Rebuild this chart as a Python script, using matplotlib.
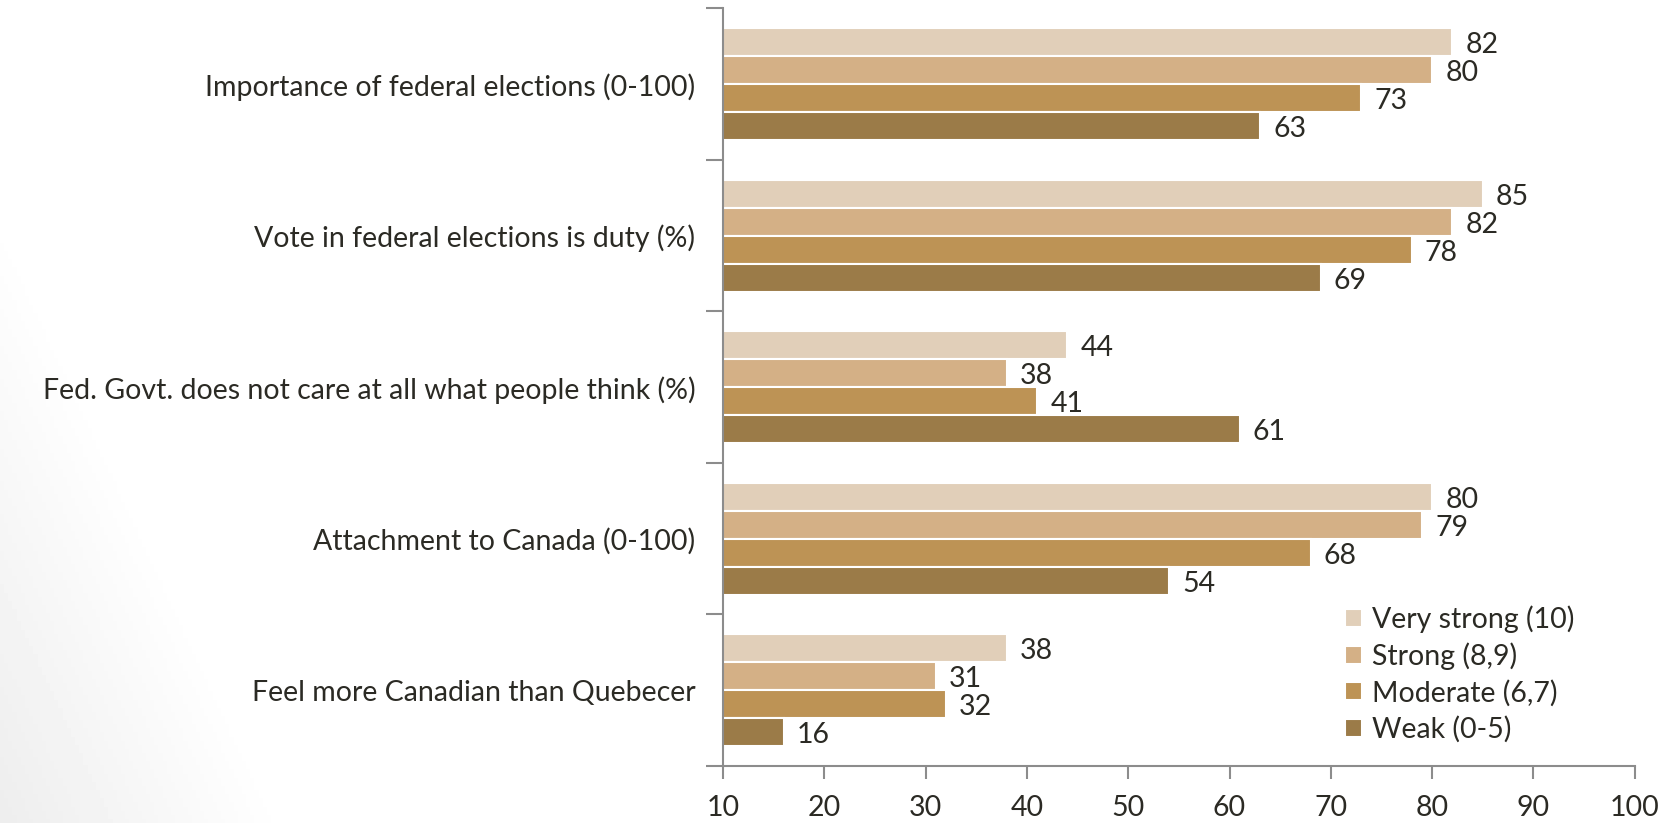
import matplotlib.pyplot as plt
import numpy as np

plt.rcParams['font.family'] = ['Lato', 'DejaVu Sans']

categories = ['Importance of federal elections (0-100)',
              'Vote in federal elections is duty (%)',
              'Fed. Govt. does not care at all what people think (%)',
              'Attachment to Canada (0-100)',
              'Feel more Canadian than Quebecer']
series = ['Very strong (10)', 'Strong (8,9)', 'Moderate (6,7)', 'Weak (0-5)']
very_strong = [82, 85, 44, 80, 38]
strong = [80, 82, 38, 79, 31]
moderate = [73, 78, 41, 68, 32]
weak = [63, 69, 61, 54, 16]
colors = ['#E1CFB9', '#D4B086', '#BD9355', '#9B7B48']
text_col = '#2b2a24'
axis_col = '#8c8c8c'
fs = 20.5

fig = plt.figure(figsize=(16.68, 8.23), dpi=100)

# faint grey shading in lower-left corner
bg = fig.add_axes([0, 0, 1, 1], zorder=-1)
yy, xx = np.mgrid[0:1:200j, 0:1:400j]
d = np.clip(1 - (xx * 7 + (1 - yy) * 1.6) / 1.2, 0, 1)
bg.imshow(1 - 0.07 * d, cmap='gray', vmin=0, vmax=1, aspect='auto',
          extent=[0, 1, 0, 1], origin='upper')
bg.axis('off')

ax = fig.add_axes([0.4335, 0.0693, 0.9800 - 0.4335, 0.9897 - 0.0693])
ax.patch.set_alpha(0)

y = np.arange(len(categories))
step = 0.185
for k, vals in enumerate([very_strong, strong, moderate, weak]):
    pos = y + (k - 1.5) * step
    ax.barh(pos, vals, height=step, color=colors[k], edgecolor='white',
            linewidth=1.5, label=series[k])
    for p, v in zip(pos, vals):
        ax.text(v + 1.3, p + 0.02, str(v), va='center', ha='left', fontsize=fs,
                color=text_col)

ax.set_xlim(10, 100)
ax.set_ylim(len(categories) - 0.5, -0.5)
ax.set_xticks(np.arange(10, 101, 10))
ax.tick_params(axis='x', length=9, width=1.5, color=axis_col, labelsize=fs,
               labelcolor=text_col, pad=12)
ax.set_yticks(np.arange(-0.5, len(categories), 1))
ax.set_yticklabels([])
ax.tick_params(axis='y', which='major', length=12, width=1.5, color=axis_col)
ax.set_yticks(y, minor=True)
ax.set_yticklabels(categories, minor=True)
ax.tick_params(axis='y', which='minor', length=0, labelsize=fs,
               labelcolor=text_col, pad=20)

for s in ['top', 'right']:
    ax.spines[s].set_visible(False)
for s in ['left', 'bottom']:
    ax.spines[s].set_color(axis_col)
    ax.spines[s].set_linewidth(1.5)

leg = ax.legend(loc='lower right', bbox_to_anchor=(0.95, 0.012), frameon=False,
                fontsize=fs, handlelength=0.6, handleheight=0.6,
                handletextpad=0.35, labelspacing=0.33, borderpad=0)
for t in leg.get_texts():
    t.set_color(text_col)

fig.savefig('out.png', dpi=100)
